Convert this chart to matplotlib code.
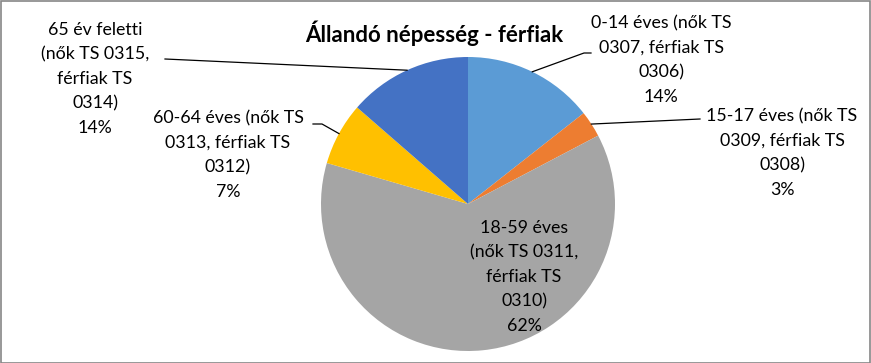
import matplotlib
matplotlib.use("Agg")
import matplotlib.pyplot as plt
import numpy as np

# ---- data ----
categories = [
    "0-14 éves (nők TS\n0307, férfiak TS\n0306)",
    "15-17 éves (nők TS\n0309, férfiak TS\n0308)",
    "18-59 éves\n(nők TS 0311,\nférfiak TS\n0310)",
    "60-64 éves (nők TS\n0313, férfiak TS\n0312)",
    "65 év feletti\n(nők TS 0315,\nférfiak TS\n0314)",
]
values = [14.4, 2.9, 62.2, 6.9, 13.6]
colors = ["#5B9BD5", "#ED7D31", "#A5A5A5", "#FFC000", "#4472C4"]
title = "Állandó népesség - férfiak"

W, H = 871, 363
DPI = 100
fig = plt.figure(figsize=(W / DPI, H / DPI), dpi=DPI)
fig.patch.set_facecolor("white")

def fx(px):
    return px / W

def fy(py):
    return 1 - py / H

# pie axes: centre (468, 204) px, radius 147 px
cx, cy, r = 468, 204, 147
ax = fig.add_axes([fx(cx - r), fy(cy + r), 2 * r / W, 2 * r / H])
wedges, _ = ax.pie(values, colors=colors, startangle=90, counterclock=False,
                   radius=1.0, wedgeprops=dict(linewidth=0))
ax.set_xlim(-1, 1)
ax.set_ylim(-1, 1)
ax.set_aspect("equal")
ax.axis("off")

FONT = "Lato"
LFS = 12.8
LSP = 1.66

total = sum(values)
pcts = [f"{round(v / total * 100):d}%" for v in values]

# label centres (px) and leader polylines (label side points, px)
label_pos = [(661, 60), (782, 153), (524, 277), (228, 155), (95, 79)]
leaders = [
    [(591, 53), (584, 53)],
    [(700, 119)],
    None,
    [(313, 124), (322, 124)],
    [(165, 59)],
]

# mid-angles of wedges
cum = np.cumsum([0] + values)
for i, (lab, pos) in enumerate(zip(categories, label_pos)):
    fig.text(fx(pos[0]), fy(pos[1]), lab + "\n" + pcts[i], ha="center", va="center",
             fontsize=LFS, family=FONT, linespacing=LSP, color="#000000")
    if leaders[i] is not None:
        mid = (cum[i] + cum[i + 1]) / 2 / total * 2 * np.pi
        ex = cx + r * np.sin(mid)
        ey = cy - r * np.cos(mid)
        pts = leaders[i] + [(ex, ey)]
        xs = [fx(p[0]) for p in pts]
        ys = [fy(p[1]) for p in pts]
        fig.add_artist(plt.Line2D(xs, ys, transform=fig.transFigure,
                                  color="#000000", linewidth=0.9))

fig.text(fx(434), fy(33), title, ha="center", va="center", fontsize=16,
         family=FONT, fontweight="bold", color="#000000")

# chart border
fig.add_artist(plt.Rectangle((0.5 / W, 0.5 / H), 1 - 1.5 / W, 1 - 1.5 / H,
                             transform=fig.transFigure, fill=False,
                             edgecolor="#868686", linewidth=1.2))

fig.savefig("out.png", dpi=DPI, facecolor="white")
